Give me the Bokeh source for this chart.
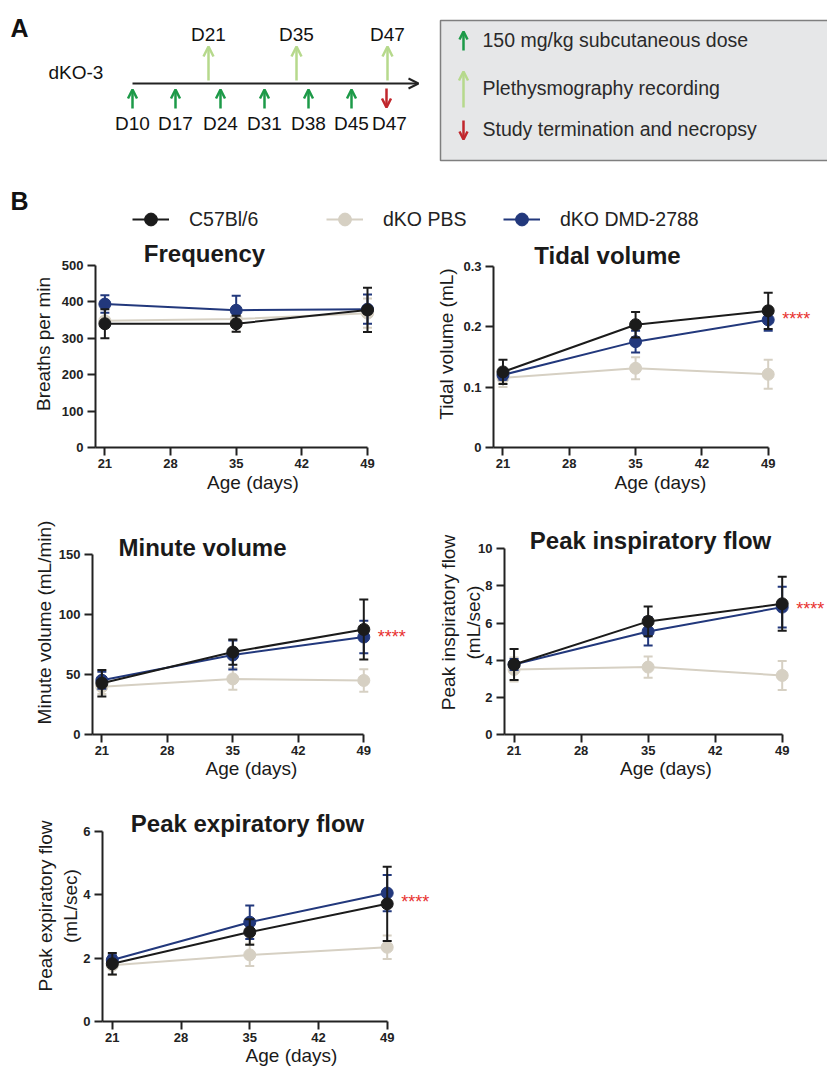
from bokeh.plotting import figure
from bokeh.layouts import column, row
from bokeh.models import (Range1d, FixedTicker, ColumnDataSource, Arrow, OpenHead,
                          Legend, LegendItem)
from bokeh.core.properties import value
from bokeh.embed import file_html
from bokeh.resources import INLINE

FONT = "Liberation Sans"

# ---------------- data ----------------
days = [21, 35, 49]
x_ticks = [21, 28, 35, 42, 49]
x_start = 20
groups = ["C57Bl/6", "dKO PBS", "dKO DMD-2788"]

freq_c57 = [340, 340, 378]
freq_c57_sd = [40, 22, 61]
freq_pbs = [348, 353, 369]
freq_pbs_sd = [10, 35, 40]
freq_dmd = [394, 377, 380]
freq_dmd_sd = [24, 40, 40]

tidal_c57 = [0.125, 0.203, 0.226]
tidal_c57_sd = [0.020, 0.021, 0.030]
tidal_pbs = [0.115, 0.131, 0.121]
tidal_pbs_sd = [0.015, 0.018, 0.024]
tidal_dmd = [0.120, 0.175, 0.211]
tidal_dmd_sd = [0.008, 0.018, 0.018]

minute_c57 = [42.7, 68.7, 87.5]
minute_c57_sd = [11, 10.5, 25]
minute_pbs = [39.7, 46.3, 45.0]
minute_pbs_sd = [6, 9, 9.3]
minute_dmd = [45.2, 66.2, 81.2]
minute_dmd_sd = [7, 12, 13.6]

pif_c57 = [3.77, 6.09, 7.04]
pif_c57_sd = [0.83, 0.80, 1.45]
pif_pbs = [3.50, 3.63, 3.18]
pif_pbs_sd = [0.65, 0.57, 0.78]
pif_dmd = [3.77, 5.55, 6.86]
pif_dmd_sd = [0.30, 0.76, 1.10]

pef_c57 = [1.82, 2.82, 3.71]
pef_c57_sd = [0.34, 0.40, 1.17]
pef_pbs = [1.77, 2.10, 2.34]
pef_pbs_sd = [0.30, 0.35, 0.37]
pef_dmd = [1.94, 3.13, 4.05]
pef_dmd_sd = [0.15, 0.53, 0.57]

freq_ticks = [0, 100, 200, 300, 400, 500]
tidal_ticks = [0, 0.1, 0.2, 0.3]
minute_ticks = [0, 50, 100, 150]
pif_ticks = [0, 2, 4, 6, 8, 10]
pef_ticks = [0, 2, 4, 6]

dose_labels = ["D10", "D17", "D24", "D31", "D38", "D45"]
recording_labels = ["D21", "D35", "D47"]
termination_labels = ["D47"]
box_texts = ["150 mg/kg subcutaneous dose", "Plethysmography recording",
             "Study termination and necropsy"]

# ---------------- styles ----------------
C_C57 = "#1b1b1b"
C_PBS = "#d6d0c3"
C_DMD = "#22387c"
G_DOSE = "#1d9a48"
G_REC = "#b6d98c"
RED = "#c1272d"
AX = "#222222"

# ---------------- panel A (schematic, pixel layout) ----------------
WA, HA = 827, 170
pa = figure(width=WA, height=HA, x_range=Range1d(0, WA), y_range=Range1d(HA, 0),
            output_backend="svg", toolbar_location=None, x_axis_type=None, y_axis_type=None,
            min_border=0, outline_line_color=None)
pa.grid.visible = False

dose_x = [132, 175, 220, 264, 308, 351]
rec_x = [208, 296, 387]
term_x = [386]

pa.text(x=[10], y=[27], text=["A"], text_font=value(FONT), text_font_style="bold",
        text_font_size="25px", text_align="left", text_baseline="middle", text_color="#111")
pa.text(x=[48], y=[71.5], text=["dKO-3"], text_font=value(FONT), text_font_size="19px",
        text_align="left", text_baseline="middle", text_color="#111")

pa.add_layout(Arrow(end=OpenHead(size=10, line_color=AX, line_width=2),
                    x_start=132, y_start=83, x_end=418, y_end=83, line_color=AX, line_width=2))

src_dose = ColumnDataSource(dict(x=dose_x, y0=[108] * 6, y1=[89] * 6))
pa.add_layout(Arrow(end=OpenHead(size=9, line_color=G_DOSE, line_width=2.5), source=src_dose,
                    x_start="x", y_start="y0", x_end="x", y_end="y1",
                    line_color=G_DOSE, line_width=2.5))
src_rec = ColumnDataSource(dict(x=rec_x, y0=[80] * 3, y1=[46] * 3))
pa.add_layout(Arrow(end=OpenHead(size=10, line_color=G_REC, line_width=2.5), source=src_rec,
                    x_start="x", y_start="y0", x_end="x", y_end="y1",
                    line_color=G_REC, line_width=2.5))
src_term = ColumnDataSource(dict(x=term_x, y0=[88], y1=[107]))
pa.add_layout(Arrow(end=OpenHead(size=9, line_color=RED, line_width=2.5), source=src_term,
                    x_start="x", y_start="y0", x_end="x", y_end="y1",
                    line_color=RED, line_width=2.5))

pa.text(x=dose_x + [389], y=[122.5] * 7, text=dose_labels + termination_labels,
        text_font=value(FONT), text_font_size="19px", text_align="center",
        text_baseline="middle", text_color="#111")
pa.text(x=rec_x, y=[33.5] * 3, text=recording_labels, text_font=value(FONT),
        text_font_size="19px", text_align="center", text_baseline="middle", text_color="#111")

# legend box
pa.quad(left=[440], right=[860], top=[20], bottom=[160], fill_color="#e6e7e8",
        line_color="#7f7f7f", line_width=1.5)
pa.add_layout(Arrow(end=OpenHead(size=8, line_color=G_DOSE, line_width=2.5),
                    x_start=463, y_start=50, x_end=463, y_end=31,
                    line_color=G_DOSE, line_width=2.5))
pa.add_layout(Arrow(end=OpenHead(size=9, line_color=G_REC, line_width=2.5),
                    x_start=463, y_start=107, x_end=463, y_end=71,
                    line_color=G_REC, line_width=2.5))
pa.add_layout(Arrow(end=OpenHead(size=8, line_color=RED, line_width=2.5),
                    x_start=463, y_start=120, x_end=463, y_end=139,
                    line_color=RED, line_width=2.5))
pa.text(x=[482] * 3, y=[39, 87, 128], text=box_texts, text_font=value(FONT),
        text_font_size="19.5px", text_align="left", text_baseline="middle", text_color="#2a2a2a")

# ---------------- panel B header with legend ----------------
WB, HB = 827, 70
pb = figure(width=WB, height=HB, x_range=Range1d(0, WB), y_range=Range1d(HB, 0),
            output_backend="svg", toolbar_location=None, x_axis_type=None, y_axis_type=None,
            min_border=0, outline_line_color=None)
pb.grid.visible = False
pb.text(x=[10], y=[30], text=["B"], text_font=value(FONT), text_font_style="bold",
        text_font_size="25px", text_align="left", text_baseline="middle", text_color="#111")

legend_x = [132, 326, 503]
for g, col, lx in zip(groups, [C_C57, C_PBS, C_DMD], legend_x):
    # keys only: one point placed outside the visible range so nothing is drawn in the frame
    rl = pb.line(x=[-50, -40], y=[-50, -50], line_color=col, line_width=2)
    rs = pb.scatter(x=[-45], y=[-50], marker="circle", size=13, fill_color=col, line_color=col)
    lg = Legend(items=[LegendItem(label=g, renderers=[rl, rs])], location=(lx, 5),
                orientation="horizontal", glyph_width=37, glyph_height=32, label_standoff=20,
                padding=0, margin=0, border_line_color=None, background_fill_alpha=0,
                label_text_font=FONT, label_text_font_size="19.5px", label_text_color="#222")
    pb.add_layout(lg)


# ---------------- data panels ----------------
def make_panel(L, c57, c57_sd, pbs, pbs_sd, dmd, dmd_sd, yticks, ylabel, title, stars):
    left = L["axis_left"] - L["fig_left"]
    bottom = L["fig_top"] + L["height"] - L["zero_y"]
    frame_w = L["width"] - left
    frame_h = L["height"] - bottom
    ppd = (L["x49"] - L["axis_left"]) / (x_ticks[-1] - x_start)
    ymax = yticks[-1]
    ppu = (L["zero_y"] - L["top_y"]) / ymax
    p = figure(width=L["width"], height=L["height"],
               x_range=Range1d(x_start, x_start + frame_w / ppd),
               y_range=Range1d(0, frame_h / ppu),
               output_backend="svg", toolbar_location=None,
               min_border_left=int(round(left)), min_border_right=0, min_border_top=0,
               min_border_bottom=int(round(bottom)), outline_line_color=None)
    p.xgrid.grid_line_color = None
    p.ygrid.grid_line_color = None

    for vals, sd, col in [(pbs, pbs_sd, C_PBS), (dmd, dmd_sd, C_DMD), (c57, c57_sd, C_C57)]:
        lo = [v - s for v, s in zip(vals, sd)]
        hi = [v + s for v, s in zip(vals, sd)]
        p.segment(x0=days, y0=lo, x1=days, y1=hi, line_color=col, line_width=2)
        p.scatter(x=days + days, y=lo + hi, marker="dash", size=9, line_color=col, line_width=2)
        p.line(x=days, y=vals, line_color=col, line_width=2)
        p.scatter(x=days, y=vals, marker="circle", size=12, fill_color=col, line_color=col)

    tx, ty = L["title_xy"]
    p.text(x=[x_start + (tx - L["axis_left"]) / ppd], y=[(L["zero_y"] - ty) / ppu], text=[title],
           text_font=value(FONT), text_font_style="bold", text_font_size="24px",
           text_align="center", text_baseline="middle", text_color="#1a1a1a")
    if stars:
        ys = (c57[-1] + dmd[-1]) / 2.0
        p.text(x=[days[-1]], y=[ys], text=["****"], x_offset=14, y_offset=4,
               text_font=value(FONT), text_font_size="18px", text_align="left",
               text_baseline="middle", text_color="#e8312f")

    for ax in (p.xaxis[0], p.yaxis[0]):
        ax.axis_line_width = 2
        ax.axis_line_color = AX
        ax.major_tick_line_width = 2
        ax.major_tick_line_color = AX
        ax.major_tick_out = 8
        ax.major_tick_in = 0
        ax.minor_tick_line_color = None
        ax.major_label_text_font = FONT
        ax.major_label_text_font_style = "bold"
        ax.major_label_text_font_size = "13px"
        ax.major_label_text_color = AX
        ax.major_label_standoff = 4
        ax.axis_label_text_font = FONT
        ax.axis_label_text_font_style = "normal"
        ax.axis_label_text_font_size = "19px"
        ax.axis_label_text_color = "#1a1a1a"
    p.xaxis.ticker = FixedTicker(ticks=x_ticks)
    p.xaxis.bounds = (x_start, x_ticks[-1])
    p.xaxis.axis_label = "Age (days)"
    p.xaxis.major_label_standoff = 3
    p.xaxis.axis_label_standoff = L["xlab_standoff"]
    p.yaxis.ticker = FixedTicker(ticks=yticks)
    p.yaxis.bounds = (0, ymax)
    p.yaxis.axis_label = ylabel
    p.yaxis.axis_label_standoff = L["ylab_standoff"]
    return p


freq_L = dict(fig_left=0, fig_top=240, width=410, height=270, axis_left=95, zero_y=447,
              top_y=265, x49=367, title_xy=(204, 253), ylab_standoff=5, xlab_standoff=1)
tidal_L = dict(fig_left=410, fig_top=240, width=417, height=270, axis_left=493, zero_y=448.3,
               top_y=265.7, x49=767.7, title_xy=(607, 255), ylab_standoff=3, xlab_standoff=1)
minute_L = dict(fig_left=0, fig_top=510, width=410, height=280, axis_left=92, zero_y=737,
                top_y=554.5, x49=363.3, title_xy=(202, 547), ylab_standoff=1, xlab_standoff=0)
pif_L = dict(fig_left=410, fig_top=510, width=417, height=280, axis_left=504, zero_y=734,
             top_y=548.3, x49=781.7, title_xy=(650, 540), ylab_standoff=-9, xlab_standoff=0)
pef_L = dict(fig_left=0, fig_top=790, width=480, height=280, axis_left=102, zero_y=1021,
             top_y=830.7, x49=386.7, title_xy=(247, 823), ylab_standoff=-1, xlab_standoff=0)

p_freq = make_panel(freq_L, freq_c57, freq_c57_sd, freq_pbs, freq_pbs_sd, freq_dmd, freq_dmd_sd,
                    freq_ticks, "Breaths per min", "Frequency", False)
p_tidal = make_panel(tidal_L, tidal_c57, tidal_c57_sd, tidal_pbs, tidal_pbs_sd, tidal_dmd,
                     tidal_dmd_sd, tidal_ticks, "Tidal volume (mL)", "Tidal volume", True)
p_minute = make_panel(minute_L, minute_c57, minute_c57_sd, minute_pbs, minute_pbs_sd, minute_dmd,
                      minute_dmd_sd, minute_ticks, "Minute volume (mL/min)", "Minute volume", True)
p_pif = make_panel(pif_L, pif_c57, pif_c57_sd, pif_pbs, pif_pbs_sd, pif_dmd, pif_dmd_sd,
                   pif_ticks, "Peak inspiratory flow\n(mL/sec)", "Peak inspiratory flow", True)
p_pef = make_panel(pef_L, pef_c57, pef_c57_sd, pef_pbs, pef_pbs_sd, pef_dmd, pef_dmd_sd,
                   pef_ticks, "Peak expiratory flow\n(mL/sec)", "Peak expiratory flow", True)

layout = column(pa, pb, row(p_freq, p_tidal), row(p_minute, p_pif), row(p_pef))

open("out.html", "w").write(file_html(layout, INLINE))
